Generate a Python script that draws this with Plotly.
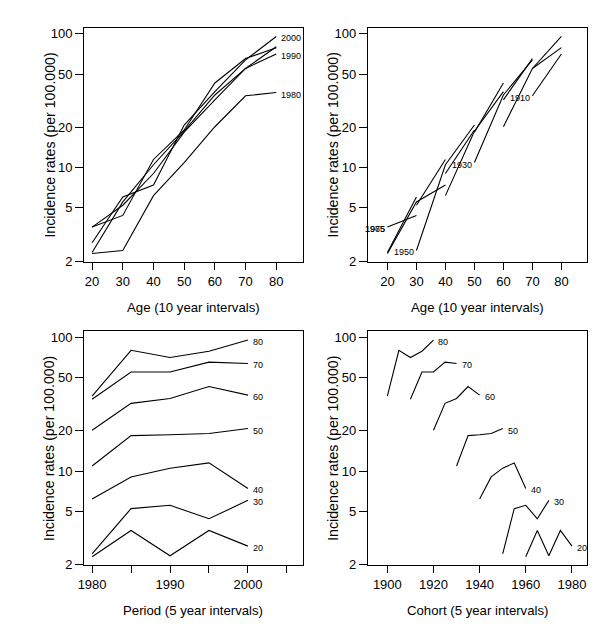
import math
import plotly.graph_objects as go

# ---- data (incidence rates per 100.000) ----
ages = [20, 30, 40, 50, 60, 70, 80]
periods = [1980, 1985, 1990, 1995, 2000]
rate_1980 = [2.28, 2.40, 6.17, 10.9, 20.2, 34.4, 36.4]
rate_1985 = [3.59, 5.23, 9.03, 18.4, 32.1, 55.1, 80.1]
rate_1990 = [2.32, 5.54, 10.5, 18.7, 34.9, 55.1, 70.7]
rate_1995 = [3.59, 4.39, 11.5, 19.1, 42.9, 65.3, 78.8]
rate_2000 = [2.74, 6.03, 7.40, 20.8, 37.0, 63.8, 95.5]
rates = {1980: rate_1980, 1985: rate_1985, 1990: rate_1990, 1995: rate_1995, 2000: rate_2000}

period_labels = [1980, 1990, 2000]
cohort_labels = [1910, 1930, 1950, 1965, 1975]
y_ticks = [2, 5, 10, 20, 50, 100]
age_ticks = [20, 30, 40, 50, 60, 70, 80]
period_ticks = [1980, 1985, 1990, 1995, 2000, 2005]
period_ticktext = ["1980", "", "1990", "", "2000", ""]
cohort_ticks = [1900, 1920, 1940, 1960, 1980]

W, H = 600, 632
FONT = "Liberation Sans, Arial, Helvetica, sans-serif"
LINE = dict(color="black", width=1.1)

fig = go.Figure()

def add_line(x, y, ax):
    fig.add_trace(go.Scatter(x=x, y=y, mode="lines", line=LINE, showlegend=False,
                             hoverinfo="skip", xaxis="x" + ax, yaxis="y" + ax))

def add_label(text, x, y, ax, side):
    fig.add_annotation(text=text, x=x, y=math.log10(y), xref="x" + ax, yref="y" + ax,
                       showarrow=False, xanchor=side, yanchor="middle",
                       xshift=3 if side == "left" else 0, yshift=-2,
                       font=dict(size=9, family=FONT, color="black"))

# Panel 1: rate vs age, one line per period
for p in periods:
    add_line(ages, rates[p], "")
    if p in period_labels:
        add_label(str(p), ages[-1], rates[p][-1], "", "left")

# Panel 2: rate vs age, one line per cohort
cohorts = sorted({p - a for p in periods for a in ages})
for c in cohorts:
    xs, ys = [], []
    for i, a in enumerate(ages):
        if c + a in rates:
            xs.append(a)
            ys.append(rates[c + a][i])
    if len(xs) >= 2:
        add_line(xs, ys, "2")
    if c in cohort_labels and xs:
        add_label(str(c), xs[0], ys[0], "2", "right")

# Panel 3: rate vs period, one line per age
for i, a in enumerate(ages):
    ys = [rates[p][i] for p in periods]
    add_line(periods, ys, "3")
    add_label(str(a), periods[-1], ys[-1], "3", "left")

# Panel 4: rate vs cohort, one line per age
for i, a in enumerate(ages):
    xs = [p - a for p in periods]
    ys = [rates[p][i] for p in periods]
    add_line(xs, ys, "4")
    add_label(str(a), xs[-1], ys[-1], "4", "left")

def px_x(a, b):
    return [a / W, b / W]

def px_y(top, bottom):
    return [1 - bottom / H, 1 - top / H]

common = dict(showline=True, mirror=True, linecolor="black", linewidth=1,
              ticks="outside", ticklen=7, tickwidth=1, tickcolor="black",
              showgrid=False, zeroline=False,
              tickfont=dict(size=13, family=FONT, color="black"))
yax = dict(common, type="log", range=[0.293, 2.045], tickvals=y_ticks,
           ticktext=[str(v) for v in y_ticks], ticklen=8)

L = px_x(70.7, 291.7)
R = px_x(357.3, 578.7)
T = px_y(19, 256)
B = px_y(326, 562.7)

fig.update_layout(
    width=W, height=H, autosize=False,
    margin=dict(l=0, r=0, t=0, b=0),
    paper_bgcolor="white", plot_bgcolor="white",
    xaxis=dict(common, domain=L, range=[17.36, 88.64], tickvals=age_ticks, anchor="y"),
    yaxis=dict(yax, domain=T, anchor="x"),
    xaxis2=dict(common, domain=R, range=[13.2, 88.8], tickvals=age_ticks, anchor="y2"),
    yaxis2=dict(yax, domain=T, anchor="x2"),
    xaxis3=dict(common, domain=L, range=[1978.96, 2007.04], tickvals=period_ticks,
                ticktext=period_ticktext, anchor="y3"),
    yaxis3=dict(yax, domain=B, anchor="x3"),
    xaxis4=dict(common, domain=R, range=[1891.5, 1986.5], tickvals=cohort_ticks, anchor="y4"),
    yaxis4=dict(yax, domain=B, anchor="x4"),
)

def title(text, xc, yc, size, angle=0):
    fig.add_annotation(text=text, x=xc / W, y=1 - yc / H, xref="paper", yref="paper",
                       showarrow=False, xanchor="center", yanchor="middle", textangle=angle,
                       font=dict(size=size, family=FONT, color="black"))

ytitle = "Incidence rates (per 100.000)"
title("Age (10 year intervals)", 181, 301.7, 13.2)
title("Age (10 year intervals)", 468, 301.7, 13.2)
title("Period (5 year intervals)", 181, 608.7, 13.2)
title("Cohort (5 year intervals)", 468, 608.7, 13.2)
title(ytitle, 36, 137.5, 14.2, -90)
title(ytitle, 322.7, 137.5, 14.2, -90)
title(ytitle, 36, 444.3, 14.2, -90)
title(ytitle, 322.7, 444.3, 14.2, -90)

fig.write_html("out.html")
